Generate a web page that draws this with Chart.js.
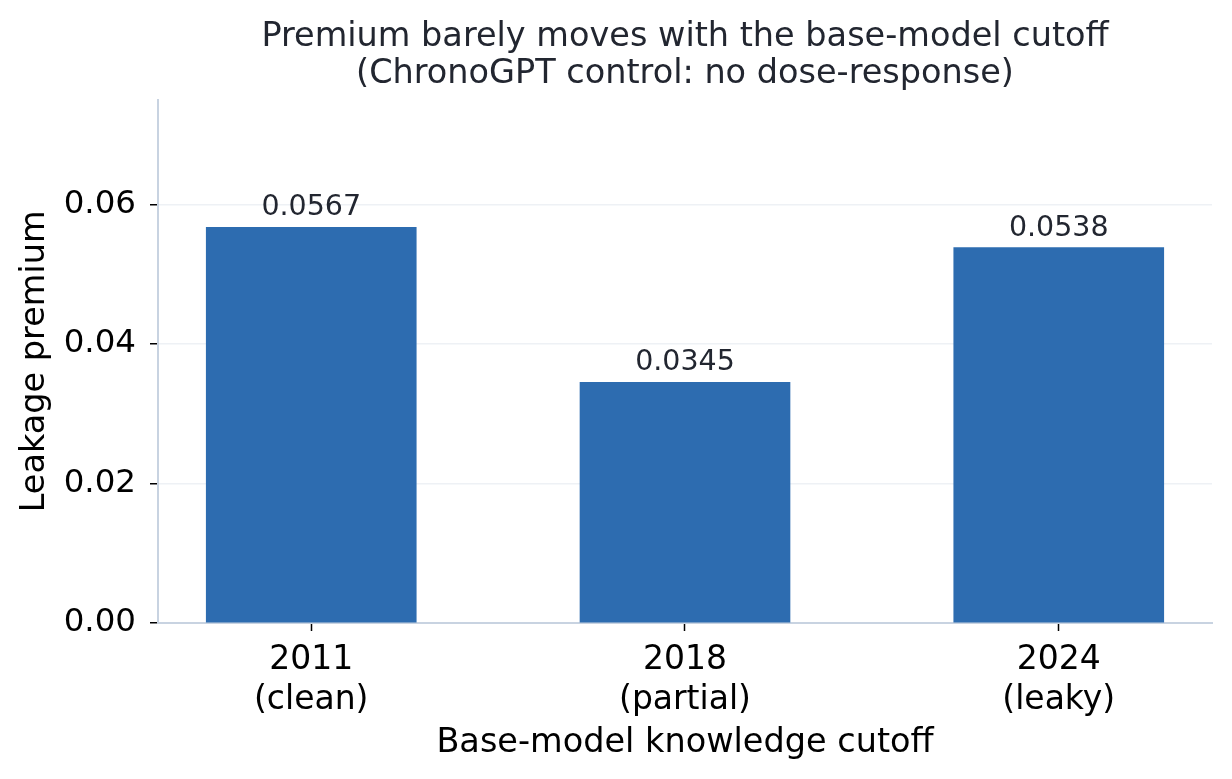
<!DOCTYPE html>
<html>
<head>
<meta charset="utf-8">
<script src="https://cdn.jsdelivr.net/npm/chart.js@4/dist/chart.umd.min.js"></script>
<style>
  html, body { margin: 0; padding: 0; background: #ffffff; }
  #wrap { width: 1232px; height: 779px; }
</style>
</head>
<body>
<div id="wrap"><canvas id="c" width="1232" height="779"></canvas></div>
<script>
const categories = [["2011", "(clean)"], ["2018", "(partial)"], ["2024", "(leaky)"]];
const premiums = [0.0567, 0.0345, 0.0538];
const valueLabels = ["0.0567", "0.0345", "0.0538"];
const yTicks = [0, 0.02, 0.04, 0.06];

const FONT = "'DejaVu Sans', sans-serif";

const valueLabelPlugin = {
  id: 'valueLabels',
  afterDatasetsDraw(chart) {
    const ctx = chart.ctx;
    const meta = chart.getDatasetMeta(0);
    ctx.save();
    ctx.font = "28.5px " + FONT;
    ctx.fillStyle = "#222630";
    ctx.textAlign = "center";
    ctx.textBaseline = "alphabetic";
    meta.data.forEach((el, i) => {
      ctx.fillText(valueLabels[i], el.x, el.y - 12);
    });
    ctx.restore();
  }
};

new Chart(document.getElementById('c'), {
  type: 'bar',
  data: {
    datasets: [{
      data: premiums.map((v, i) => ({ x: i, y: v })),
      backgroundColor: '#2d6cb0',
      borderWidth: 0,
      barThickness: 210
    }]
  },
  options: {
    responsive: false,
    animation: false,
    layout: { padding: { left: 0, right: 20, top: 0, bottom: 0 } },
    plugins: {
      legend: { display: false },
      tooltip: { enabled: false },
      title: {
        display: true,
        fullSize: false,
        text: ["Premium barely moves with the base-model cutoff", "(ChronoGPT control: no dose-response)"],
        color: '#222630',
        font: { family: FONT, size: 33.5, weight: 'normal', lineHeight: 1.1 },
        padding: { top: 19, bottom: 7 }
      }
    },
    scales: {
      x: {
        type: 'linear',
        min: -0.41,
        max: 2.41,
        offset: false,
        afterBuildTicks(scale) { scale.ticks = categories.map((c, i) => ({ value: i })); },
        afterFit(scale) { scale.height = 156; },
        ticks: {
          callback: (v) => categories[v],
          color: '#000000',
          font: { family: FONT, size: 33, lineHeight: 1.2 },
          padding: 10,
          maxRotation: 0,
          autoSkip: false
        },
        grid: {
          offset: false,
          drawOnChartArea: false,
          drawTicks: true,
          tickLength: 8,
          tickColor: '#000000',
          tickWidth: 1.5
        },
        border: { display: true, color: '#c8d3e1', width: 2 },
        title: {
          display: true,
          text: 'Base-model knowledge cutoff',
          color: '#000000',
          font: { family: FONT, size: 33.5 },
          padding: { top: 4, bottom: 16 }
        }
      },
      y: {
        min: 0,
        max: 0.075,
        afterBuildTicks(scale) { scale.ticks = yTicks.map(v => ({ value: v })); },
        afterFit(scale) { scale.width = 158; },
        ticks: {
          callback: (v) => v.toFixed(2),
          color: '#000000',
          font: { family: FONT, size: 32.5 },
          padding: 14
        },
        grid: {
          color: '#eef1f5',
          lineWidth: 1.5,
          drawTicks: true,
          tickLength: 8,
          tickColor: '#000000',
          tickWidth: 1.5
        },
        border: { display: true, color: '#c8d3e1', width: 2 },
        title: {
          display: true,
          text: 'Leakage premium',
          color: '#000000',
          font: { family: FONT, size: 33.5 },
          padding: { top: 15, bottom: 0 }
        }
      }
    }
  },
  plugins: [valueLabelPlugin]
});
</script>
</body>
</html>
